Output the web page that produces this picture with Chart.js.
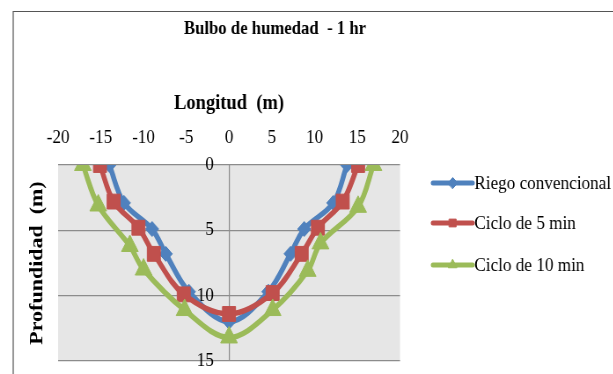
<!DOCTYPE html>
<html>
<head>
<meta charset="utf-8">
<script src="https://cdn.jsdelivr.net/npm/chart.js@4.4.1/dist/chart.umd.min.js"></script>
<style>
  html, body { margin: 0; padding: 0; background: #ffffff; overflow: hidden; }
  #wrap { position: relative; width: 613px; height: 374px; overflow: hidden; }
  /* the figure is drawn on a wider canvas and narrowed horizontally */
  #bulbo { position: absolute; left: 0; top: 0; transform-origin: 0 0; transform: scaleX(0.88); }
</style>
</head>
<body>
<div id="wrap"><canvas id="bulbo" width="697" height="374"></canvas></div>
<script>
// Horizontal tick values (Longitud, m) and vertical tick values (Profundidad, m)
const longitudTicks = [-20, -15, -10, -5, 0, 5, 10, 15, 20];
const profundidadTicks = [0, 5, 10, 15];

// Series names
const seriesNames = ['Riego convencional', 'Ciclo de 5 min', 'Ciclo de 10 min'];

// Riego convencional
const riegoX = [-14, -12.3, -9, -7.4, -4.7, 0, 4.6, 7.2, 8.8, 12.2, 13.8];
const riegoY = [0, 2.9, 4.9, 6.8, 9.7, 12, 9.7, 6.8, 4.9, 2.9, 0];

// Ciclo de 5 min
const ciclo5X = [-15.1, -13.5, -10.6, -8.8, -5.3, 0, 5.1, 8.5, 10.4, 13.3, 15.1];
const ciclo5Y = [0, 2.8, 4.8, 6.8, 9.9, 11.4, 9.8, 6.8, 4.8, 2.8, 0];

// Ciclo de 10 min
const ciclo10X = [-17.1, -15.3, -11.6, -10, -5.2, 0, 5.1, 9.2, 10.7, 15.1, 16.9];
const ciclo10Y = [0, 3.1, 6.2, 8.0, 11.1, 13.2, 11.1, 8.1, 6.0, 3.2, 0];

const toPoints = (xs, ys) => xs.map((x, i) => ({ x: x, y: ys[i] }));

const COLORS = ['#4F81BD', '#C0504D', '#9BBB59'];
const MARKERS = ['rectRot', 'rect', 'triangle'];
const SERIF = '"Liberation Serif", "Times New Roman", serif';
const GRID = '#8c8c8c';

// Gray plot area and outer frame
const backdrop = {
  id: 'backdrop',
  beforeDraw(chart) {
    const { ctx, chartArea: a } = chart;
    ctx.save();
    ctx.fillStyle = '#ffffff';
    ctx.fillRect(0, 0, chart.width, chart.height);
    ctx.fillStyle = '#e6e6e6';
    ctx.fillRect(a.left, a.top, a.right - a.left, a.bottom - a.top);
    ctx.strokeStyle = '#555555';
    ctx.lineWidth = 1.2;
    ctx.beginPath();
    ctx.moveTo(15, chart.height + 2);
    ctx.lineTo(15, 11.5);
    ctx.lineTo(chart.width + 2, 11.5);
    ctx.stroke();
    ctx.restore();
  }
};

// Legend: line sample with marker, followed by the series name
const sideLegend = {
  id: 'sideLegend',
  afterDraw(chart) {
    const { ctx } = chart;
    const rows = [183, 223, 265];
    const x0 = 492, x1 = 537;
    ctx.save();
    chart.data.datasets.forEach((ds, i) => {
      const y = rows[i];
      ctx.strokeStyle = ds.borderColor;
      ctx.lineWidth = 5;
      ctx.lineCap = 'round';
      ctx.beginPath();
      ctx.moveTo(x0, y);
      ctx.lineTo(x1, y);
      ctx.stroke();
      ctx.fillStyle = ds.borderColor;
      ctx.strokeStyle = ds.borderColor;
      ctx.lineWidth = 1;
      Chart.helpers.drawPoint(ctx, { pointStyle: ds.pointStyle, radius: 5.5, borderWidth: 1 }, (x0 + x1) / 2, y);
      ctx.fillStyle = '#000000';
      ctx.font = '19.5px ' + SERIF;
      ctx.textBaseline = 'middle';
      ctx.textAlign = 'left';
      ctx.fillText(seriesNames[i], x1 + 2, y + 1);
    });
    ctx.restore();
  }
};

const seriesData = [
  toPoints(riegoX, riegoY),
  toPoints(ciclo5X, ciclo5Y),
  toPoints(ciclo10X, ciclo10Y)
];

const datasets = seriesData.map((pts, i) => ({
  label: seriesNames[i],
  data: pts,
  showLine: true,
  tension: 0.35,
  borderColor: COLORS[i],
  backgroundColor: COLORS[i],
  borderWidth: 5.5,
  pointStyle: MARKERS[i],
  pointRadius: [7.5, 10.5, 11][i],
  pointBackgroundColor: COLORS[i],
  pointBorderColor: COLORS[i],
  pointBorderWidth: 1,
  order: 3 - i
}));

new Chart(document.getElementById('bulbo'), {
  type: 'scatter',
  data: { datasets: datasets },
  plugins: [backdrop, sideLegend],
  options: {
    responsive: false,
    animation: false,
    layout: { padding: { left: 15, right: 87, top: 0, bottom: 13 } },
    plugins: {
      legend: { display: false },
      tooltip: { enabled: false },
      title: {
        display: true,
        text: 'Bulbo de humedad  - 1 hr',
        color: '#000000',
        font: { family: SERIF, size: 19, weight: 'bold' },
        padding: { top: 17.5, bottom: 10 }
      }
    },
    scales: {
      x: {
        type: 'linear',
        position: 'top',
        min: -20,
        max: 20,
        afterBuildTicks: (s) => { s.ticks = longitudTicks.map(v => ({ value: v })); },
        afterFit: (s) => { s.height = 114.7; },
        // only the vertical line through x = 0 is drawn
        grid: {
          drawTicks: false,
          lineWidth: 1.2,
          color: (c) => (c.tick && c.tick.value === 0 ? GRID : 'rgba(0,0,0,0)')
        },
        border: { display: false },
        ticks: {
          color: '#000000',
          padding: 15,
          maxRotation: 0,
          font: { family: SERIF, size: 19.5 }
        },
        title: {
          display: true,
          text: 'Longitud  (m)',
          color: '#000000',
          font: { family: SERIF, size: 21, weight: 'bold' },
          padding: { top: 41, bottom: 0 }
        }
      },
      y: {
        type: 'linear',
        position: 'left',
        weight: 0,
        reverse: true,
        min: 0,
        max: 15,
        afterBuildTicks: (s) => { s.ticks = profundidadTicks.map(v => ({ value: v })); },
        afterFit: (s) => { s.width = 0; s.paddingTop = 12; s.paddingBottom = 12; },
        grid: { color: GRID, lineWidth: 1.2, drawTicks: false },
        border: { display: false },
        // labels sit just left of the x = 0 line
        ticks: {
          color: '#000000',
          mirror: true,
          crossAlign: 'far',
          padding: 157.5,
          font: { family: SERIF, size: 19.5 }
        }
      },
      yTitle: {
        type: 'linear',
        position: 'left',
        weight: 1,
        afterFit: (s) => { s.width = 51; },
        grid: { display: false, drawTicks: false },
        border: { display: false },
        ticks: { display: false },
        title: {
          display: true,
          text: 'Profundidad  (m)',
          color: '#000000',
          font: { family: SERIF, size: 22, weight: 'bold' },
          padding: { top: 14, bottom: 0 }
        }
      },
      legendSpace: {
        type: 'linear',
        position: 'right',
        afterFit: (s) => { s.width = 155.5; },
        grid: { display: false, drawTicks: false },
        border: { display: false },
        ticks: { display: false }
      }
    }
  }
});
</script>
</body>
</html>
